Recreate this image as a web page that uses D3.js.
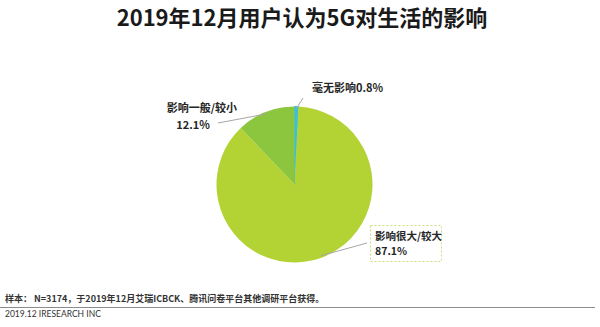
<!DOCTYPE html>
<html>
<head>
<meta charset="utf-8">
<script src="https://cdn.jsdelivr.net/npm/d3@7/dist/d3.min.js"></script>
<style>
  html, body { margin: 0; padding: 0; background: #fff; }
  svg { display: block; font-family: "Noto Sans CJK SC", "Noto Sans", sans-serif; }
</style>
</head>
<body>
<svg id="chart" width="600" height="327"></svg>
<script>
// Survey shares, clockwise from 12 o'clock
const categories = ["毫无影响", "影响很大/较大", "影响一般/较小"];
const values = [0.8, 87.1, 12.1];
const colors = ["#3bbfdf", "#b3d334", "#8cc63f"];

const svg = d3.select("#chart");

// Title
svg.append("text")
  .attr("x", 302).attr("y", 26)
  .attr("text-anchor", "middle")
  .attr("font-size", 22).attr("font-weight", 700)
  .attr("fill", "#1a1a1a")
  .text("2019年12月用户认为5G对生活的影响");

// Pie
const cx = 294.5, cy = 184.5, r = 78;
const pie = d3.pie().sort(null).value(d => d)(values);
const arc = d3.arc().innerRadius(0).outerRadius(r);
const g = svg.append("g").attr("transform", `translate(${cx},${cy})`);
g.selectAll("path").data(pie).join("path")
  .attr("d", arc)
  .attr("fill", (d, i) => colors[i])
  .attr("stroke", (d, i) => i === 0 ? colors[0] : "none")
  .attr("stroke-width", 1);

// Leader lines and labels
const edge = d3.arc().innerRadius(r - 2).outerRadius(r - 2);
const leaders = [
  { i: 0, to: [303, 98] },
  { i: 1, to: [367, 243] },
  { i: 2, to: [218, 123] }
];
leaders.forEach(l => {
  const p = edge.centroid(pie[l.i]);
  svg.append("line")
    .attr("x1", cx + p[0]).attr("y1", cy + p[1])
    .attr("x2", l.to[0]).attr("y2", l.to[1])
    .attr("stroke", "#a6a6a6").attr("stroke-width", 1);
});

const lab = (x, y, t, anchor) => svg.append("text")
  .attr("x", x).attr("y", y)
  .attr("text-anchor", anchor || "start")
  .attr("font-size", 11).attr("font-weight", 700)
  .attr("fill", "#262626").text(t);

lab(312, 92, categories[0] + values[0].toFixed(1) + "%");
lab(202, 112, categories[2], "middle");
lab(193, 129, values[2].toFixed(1) + "%", "middle");

// Dashed box around the largest share
svg.append("rect")
  .attr("x", 370.5).attr("y", 225.5)
  .attr("width", 71).attr("height", 36)
  .attr("fill", "none")
  .attr("stroke", "#c9e07a").attr("stroke-width", 1)
  .attr("stroke-dasharray", "2,2");
lab(375, 240, categories[1]).attr("font-size", 10.5);
lab(375, 255, values[1].toFixed(1) + "%").attr("font-size", 10.5);

// Footer
svg.append("text")
  .attr("x", 5).attr("y", 302)
  .attr("font-size", 9).attr("font-weight", 700).attr("fill", "#333")
  .text("样本： N=3174，于2019年12月艾瑞ICBCK、腾讯问卷平台其他调研平台获得。");
svg.append("line")
  .attr("x1", 0).attr("x2", 595)
  .attr("y1", 307.5).attr("y2", 307.5)
  .attr("stroke", "#8c8c8c").attr("stroke-width", 1);
svg.append("text")
  .attr("x", 5).attr("y", 317)
  .attr("font-size", 8.5).attr("fill", "#333")
  .attr("font-family", "Lato, 'Noto Sans', sans-serif")
  .text("2019.12 IRESEARCH INC");
</script>
</body>
</html>
